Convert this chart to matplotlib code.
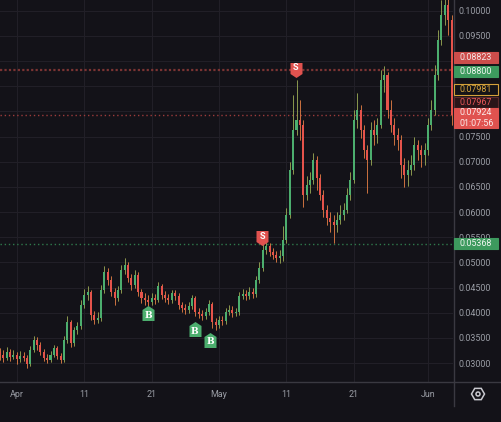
import matplotlib
matplotlib.use('Agg')
import matplotlib.pyplot as plt
import matplotlib.dates as mdates
from matplotlib.patches import Rectangle, RegularPolygon, Circle
from matplotlib.path import Path
from matplotlib.transforms import IdentityTransform
from matplotlib.lines import Line2D
import numpy as np
import pandas as pd

plt.rcParams['font.family'] = ['Roboto', 'DejaVu Sans']

# 12h candles
times = pd.date_range('2024-03-29 12:00', periods=135, freq='12h')
first_open = 0.0322
close = [0.0316, 0.0310, 0.0322, 0.0312, 0.0316, 0.0308, 0.0314, 0.0310, 0.0298, 0.0326,
         0.0346, 0.0336, 0.0322, 0.0310, 0.0306, 0.0316, 0.0330, 0.0314, 0.0306, 0.0346,
         0.0382, 0.0340, 0.0366, 0.0374, 0.0415, 0.0435, 0.0441, 0.0395, 0.0386, 0.0390,
         0.0445, 0.0481, 0.0465, 0.0441, 0.0429, 0.0445, 0.0485, 0.0495, 0.0469, 0.0455,
         0.0475, 0.0441, 0.0429, 0.0425, 0.0421, 0.0429, 0.0425, 0.0453, 0.0435, 0.0429,
         0.0425, 0.0439, 0.0433, 0.0415, 0.0409, 0.0405, 0.0413, 0.0429, 0.0401, 0.0397,
         0.0394, 0.0401, 0.0417, 0.0382, 0.0376, 0.0386, 0.0384, 0.0401, 0.0405, 0.0399,
         0.0401, 0.0433, 0.0437, 0.0433, 0.0441, 0.0437, 0.0465, 0.0489, 0.0525, 0.0533,
         0.0521, 0.0515, 0.0509, 0.0513, 0.0545, 0.0594, 0.0684, 0.0763, 0.0783, 0.0773,
         0.0634, 0.0654, 0.0664, 0.0703, 0.0668, 0.0634, 0.0604, 0.0588, 0.0580, 0.0574,
         0.0584, 0.0594, 0.0604, 0.0634, 0.0664, 0.0783, 0.0803, 0.0763, 0.0723, 0.0703,
         0.0763, 0.0753, 0.0773, 0.0862, 0.0872, 0.0803, 0.0773, 0.0753, 0.0743, 0.0694,
         0.0674, 0.0684, 0.0694, 0.0733, 0.0723, 0.0713, 0.0723, 0.0773, 0.0803, 0.0872,
         0.0942, 0.0992, 0.1011, 0.0982, 0.07924]
high = [0.0330, 0.0326, 0.0332, 0.0328, 0.0326, 0.0322, 0.0324, 0.0322, 0.0316, 0.0334,
        0.0354, 0.0352, 0.0342, 0.0328, 0.0318, 0.0324, 0.0336, 0.0334, 0.0320, 0.0354,
        0.0394, 0.0386, 0.0372, 0.0382, 0.0425, 0.0447, 0.0453, 0.0445, 0.0403, 0.0401,
        0.0455, 0.0493, 0.0489, 0.0473, 0.0449, 0.0453, 0.0495, 0.0509, 0.0501, 0.0477,
        0.0485, 0.0481, 0.0447, 0.0439, 0.0435, 0.0439, 0.0437, 0.0461, 0.0457, 0.0443,
        0.0437, 0.0445, 0.0445, 0.0439, 0.0421, 0.0417, 0.0421, 0.0435, 0.0433, 0.0409,
        0.0405, 0.0409, 0.0425, 0.0421, 0.0390, 0.0394, 0.0394, 0.0409, 0.0415, 0.0413,
        0.0409, 0.0441, 0.0447, 0.0445, 0.0451, 0.0449, 0.0473, 0.0501, 0.0537, 0.0545,
        0.0539, 0.0529, 0.0523, 0.0525, 0.0572, 0.0608, 0.0700, 0.0833, 0.0862, 0.0823,
        0.0783, 0.0672, 0.0680, 0.0717, 0.0711, 0.0676, 0.0644, 0.0614, 0.0600, 0.0594,
        0.0600, 0.0614, 0.0618, 0.0648, 0.0680, 0.0803, 0.0837, 0.0813, 0.0773, 0.0733,
        0.0779, 0.0783, 0.0787, 0.0882, 0.0890, 0.0878, 0.0823, 0.0787, 0.0767, 0.0753,
        0.0707, 0.0703, 0.0713, 0.0749, 0.0743, 0.0733, 0.0737, 0.0787, 0.0823, 0.0892,
        0.0962, 0.1021, 0.1031, 0.1027, 0.0992]
low = [0.0306, 0.0302, 0.0306, 0.0304, 0.0308, 0.0298, 0.0302, 0.0304, 0.0290, 0.0294,
       0.0322, 0.0326, 0.0316, 0.0304, 0.0300, 0.0302, 0.0312, 0.0308, 0.0300, 0.0302,
       0.0340, 0.0332, 0.0334, 0.0358, 0.0368, 0.0409, 0.0425, 0.0386, 0.0378, 0.0380,
       0.0384, 0.0439, 0.0455, 0.0433, 0.0415, 0.0423, 0.0439, 0.0477, 0.0461, 0.0445,
       0.0449, 0.0433, 0.0419, 0.0415, 0.0413, 0.0415, 0.0417, 0.0421, 0.0427, 0.0421,
       0.0417, 0.0419, 0.0425, 0.0407, 0.0401, 0.0397, 0.0399, 0.0407, 0.0394, 0.0390,
       0.0386, 0.0388, 0.0395, 0.0370, 0.0366, 0.0370, 0.0376, 0.0378, 0.0395, 0.0392,
       0.0394, 0.0395, 0.0427, 0.0425, 0.0427, 0.0429, 0.0431, 0.0459, 0.0483, 0.0517,
       0.0513, 0.0507, 0.0501, 0.0499, 0.0503, 0.0539, 0.0588, 0.0676, 0.0753, 0.0743,
       0.0610, 0.0624, 0.0638, 0.0656, 0.0644, 0.0624, 0.0590, 0.0574, 0.0560, 0.0539,
       0.0560, 0.0576, 0.0584, 0.0598, 0.0624, 0.0658, 0.0767, 0.0747, 0.0707, 0.0638,
       0.0694, 0.0733, 0.0737, 0.0767, 0.0839, 0.0787, 0.0759, 0.0733, 0.0723, 0.0668,
       0.0650, 0.0652, 0.0674, 0.0684, 0.0703, 0.0690, 0.0694, 0.0713, 0.0763, 0.0793,
       0.0862, 0.0932, 0.0972, 0.0952, 0.0773]

sell_times = ['2024-05-07 10:00', '2024-05-12 10:00']
sell_prices = [0.0548, 0.0883]
buy_times = ['2024-04-20 12:00', '2024-04-27 10:00', '2024-04-29 16:00']
buy_prices = [0.0399, 0.0367, 0.0346]

date_ticks = ['2024-04-01', '2024-04-11', '2024-04-21', '2024-05-01', '2024-05-11', '2024-05-21', '2024-06-01']
date_labels = ['Apr', '11', '21', 'May', '11', '21', 'Jun']

price_lines = [0.08823, 0.07924, 0.05368]
# value, text, face, edge, text colour, shift (px)
price_tags = [
    (0.08823, '0.08823', '#cc4d4b', '#cc4d4b', '#f3e6e6', 12),
    (0.08800, '0.08800', '#3d9a5e', '#3d9a5e', '#f0f5f0', 0),
    (0.07981, '0.07981', '#151418', '#d4a13a', '#d9a63c', 23),
    (0.07967, '0.07967', '#2a1519', '#5a2a2d', '#e8595a', 11),
    (0.07924, '0.07924\n01:07:56', '#e0524f', '#e0524f', '#fbecec', -3),
    (0.05368, '0.05368', '#3d9a5e', '#3d9a5e', '#f0f5f0', 0),
]
# scale labels covered by the tags
hidden_ticks = [0.09, 0.085, 0.08]

bg = '#131218'
up_c = '#4cae6e'
dn_c = '#e5534b'
txt_c = '#9a9da5'

W, H = 501, 422
fig = plt.figure(figsize=(W / 100, H / 100), dpi=100, facecolor=bg)
ax = fig.add_axes([0, 40 / H, 453 / W, 382 / H])
ax.set_facecolor(bg)

x = mdates.date2num(times)
opn = np.array([first_open] + close[:-1])
cls = np.array(close)
hi = np.array(high)
lo = np.array(low)
is_up = cls >= opn
cols = np.where(is_up, up_c, dn_c)

ax.vlines(x, lo, hi, colors='#d29a3c', lw=0.7, alpha=0.85, zorder=2)
body_lo = np.minimum(opn, cls)
body_h = np.maximum(np.abs(cls - opn), 0.00015)
ax.bar(x, body_h, bottom=body_lo, width=0.3, color=cols, linewidth=0, zorder=3)
ax.vlines(x, lo, hi, colors=cols, lw=0.5, alpha=0.6, zorder=3)

# axis scaling
apr1 = mdates.date2num(pd.Timestamp('2024-04-01'))
px_day = 6.74
x0 = apr1 - 16.8 / px_day
ax.set_xlim(x0, x0 + 453 / px_day)
ax.set_ylim(0.026225, 0.102126)


def fmt_price(v, pos):
    if any(abs(v - h) < 1e-6 for h in hidden_ticks):
        return ''
    return f'{v:.5f}'


ax.set_yticks(np.arange(0.03, 0.1001, 0.005))
ax.yaxis.set_major_formatter(plt.FuncFormatter(fmt_price))
ax.tick_params(axis='y', left=False, right=True, labelleft=False, labelright=True,
               length=0, pad=4.3, labelsize=6.4, labelcolor=txt_c)
ax.set_xticks(mdates.date2num(pd.to_datetime(date_ticks)))
ax.set_xticklabels(date_labels)
ax.tick_params(axis='x', length=0, pad=6, labelsize=6.4, labelcolor=txt_c)
ax.grid(True, color='#211f27', lw=0.8)
ax.set_axisbelow(True)
for s in ax.spines.values():
    s.set_visible(False)

# horizontal price lines
ax.axhline(price_lines[0], color='#7a3433', lw=1.6, ls=(0, (1, 1)), zorder=1)
ax.axhline(price_lines[1], color='#9c3b3b', lw=1.0, ls=(0, (1, 2)), zorder=1)
ax.axhline(price_lines[2], color='#2f7a4c', lw=1.0, ls=(0, (1, 2)), zorder=1)

# buy / sell flags
sell_mk = Path([(-0.8, 1), (0.8, 1), (0.8, -0.47), (0, -1), (-0.8, -0.47), (-0.8, 1)])
buy_mk = Path([(-0.8, -1), (0.8, -1), (0.8, 0.47), (0, 1), (-0.8, 0.47), (-0.8, -1)])
sx = mdates.date2num(pd.to_datetime(sell_times))
bx = mdates.date2num(pd.to_datetime(buy_times))
ax.plot(sx, sell_prices, ls='none', marker=sell_mk, ms=10.8, mfc='#e0524f', mec='none', zorder=5)
ax.plot(bx, buy_prices, ls='none', marker=buy_mk, ms=10.8, mfc='#4cae6e', mec='none', zorder=5)
for xx, yy in zip(sx, sell_prices):
    ax.annotate('S', (xx, yy), xytext=(0, 1.5), textcoords='offset points', ha='center', va='center',
                color='white', fontsize=6.6, fontweight='bold', zorder=6)
for xx, yy in zip(bx, buy_prices):
    ax.annotate('B', (xx, yy), xytext=(0, -1.5), textcoords='offset points', ha='center', va='center',
                color='white', fontsize=6.6, fontweight='bold', family='DejaVu Serif', zorder=6)

# frame lines
idt = IdentityTransform()
fig.add_artist(Line2D([453.5, 453.5], [16, H], color='#3a3941', lw=1, transform=idt))
fig.add_artist(Line2D([0, W], [40.5, 40.5], color='#3a3941', lw=1, transform=idt))

# price tags on the scale
for val, s, fc, ec, tc, shift in price_tags:
    ypx = ax.transData.transform((x0, val))[1] + shift
    nlines = s.count('\n') + 1
    h = 11 if nlines == 1 else 20.5
    fig.add_artist(Rectangle((453.5, ypx - h / 2), 44, h, facecolor=fc, edgecolor=ec, lw=0.8,
                             transform=idt, zorder=3))
    fig.text(459, ypx, s, transform=idt, color=tc, fontsize=6.4, va='center', ha='left',
             linespacing=1.25, zorder=4)

# settings icon
fig.add_artist(RegularPolygon((478, 28), 6, radius=6.5, orientation=np.pi / 6, facecolor='none',
                              edgecolor='#c9c9cf', lw=1.1, transform=idt))
fig.add_artist(Circle((478, 28), 2, facecolor='none', edgecolor='#c9c9cf', lw=1.1, transform=idt))

fig.savefig('out.png', dpi=100, facecolor=bg)
